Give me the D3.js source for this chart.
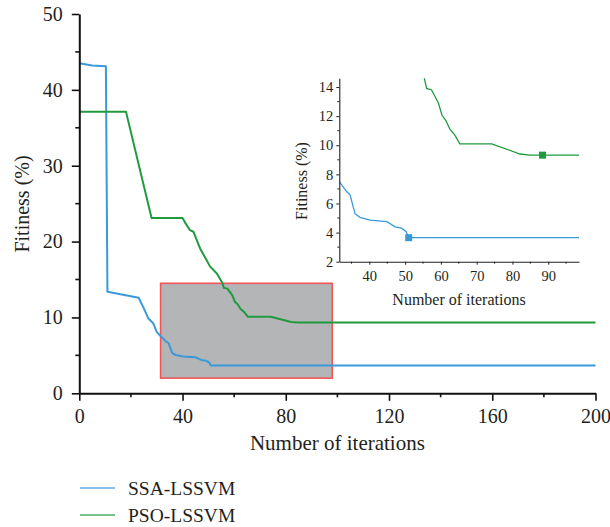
<!DOCTYPE html>
<html>
<head>
<meta charset="utf-8">
<script src="https://cdn.jsdelivr.net/npm/d3@7"></script>
<style>
  html, body { margin: 0; padding: 0; background: #fff; }
  svg { display: block; }
  text { font-family: "Liberation Serif", "Times New Roman", serif; fill: #231f20; }
</style>
</head>
<body>
<svg id="chart" width="610" height="527"></svg>
<script>
// ---- Data ----
const seriesNames = ["SSA-LSSVM", "PSO-LSSVM"];
const ssaIter = [0, 5, 10.3, 10.9, 23, 25, 26.7, 28.7, 30, 31.6, 33.7, 34.6, 36, 37.4, 40.2, 44.9, 47.2, 49, 50.3, 51, 200];
const ssaFit  = [43.5, 43.2, 43.1, 13.4, 12.6, 11.2, 9.9, 9.2, 8.1, 7.5, 6.8, 6.6, 5.3, 5.05, 4.86, 4.75, 4.4, 4.3, 4.06, 3.65, 3.65];
const psoIter = [0, 18.1, 28, 40, 41, 42.9, 44.2, 46.8, 50.7, 53.3, 55.4, 56, 57.4, 59.3, 60.3, 61.4, 62.5, 63.9, 65.3, 74.2, 82.1, 84.9, 200];
const psoFit  = [37.1, 37.1, 23.1, 23.1, 22.5, 21.5, 21.3, 19.1, 16.7, 15.8, 14.58, 13.9, 13.8, 12.9, 12.06, 11.7, 11.1, 10.7, 10.1, 10.1, 9.4, 9.32, 9.32];
const bestIter = [51, 88.4];
const bestFit  = [3.65, 9.32];
const mainXTicks = [0, 40, 80, 120, 160, 200];
const mainYTicks = [0, 10, 20, 30, 40, 50];
const insetXTicks = [40, 50, 60, 70, 80, 90];
const insetYTicks = [2, 4, 6, 8, 10, 12, 14];
const zoomIter = [31.5, 98];
const zoomFit = [2, 14.5];

const colors = ["#3a9ad9", "#1f9a3e"];
const svg = d3.select("#chart");

const ssa = ssaIter.map((x, i) => ({x, y: ssaFit[i]}));
const pso = psoIter.map((x, i) => ({x, y: psoFit[i]}));
const series = [ssa, pso];

// ---- Main chart ----
const x = d3.scaleLinear().domain([0, 200]).range([79.3, 595.5]);
const y = d3.scaleLinear().domain([0, 50]).range([393.3, 14]);

// zoom rectangle
svg.append("rect")
  .attr("x", x(zoomIter[0])).attr("y", y(zoomFit[1]))
  .attr("width", x(zoomIter[1]) - x(zoomIter[0]))
  .attr("height", y(zoomFit[0]) - y(zoomFit[1]))
  .attr("fill", "#b3b5b7").attr("stroke", "#f25656").attr("stroke-width", 1.6);

const line = d3.line().x(d => x(d.x)).y(d => y(d.y));
series.forEach((s, i) => {
  svg.append("path").datum(s).attr("d", line)
    .attr("fill", "none").attr("stroke", colors[i]).attr("stroke-width", 2)
    .attr("stroke-linejoin", "round");
});

function styleAxis(g, fs) {
  g.select(".domain").attr("stroke", "#111").attr("stroke-width", 2);
  g.selectAll(".tick line").attr("stroke", "#111").attr("stroke-width", 1.6);
  g.selectAll("text").style("font-size", fs + "px").attr("fill", "#231f20");
}

// minor ticks
const xMinor = d3.range(0, 201, 20).filter(v => !mainXTicks.includes(v));
const yMinor = d3.range(0, 51, 5).filter(v => !mainYTicks.includes(v));

const gx = svg.append("g").attr("transform", `translate(0,${y(0)})`)
  .call(d3.axisBottom(x).tickValues(mainXTicks).tickSize(7.5).tickPadding(8).tickSizeOuter(0));
styleAxis(gx, 20);
gx.selectAll(".minor").data(xMinor).enter().append("line")
  .attr("x1", d => x(d)).attr("x2", d => x(d)).attr("y1", 0).attr("y2", 4)
  .attr("stroke", "#111").attr("stroke-width", 1.6);

const gy = svg.append("g").attr("transform", `translate(${x(0)},0)`)
  .call(d3.axisLeft(y).tickValues(mainYTicks).tickSize(7.5).tickPadding(9).tickSizeOuter(0));
styleAxis(gy, 20);
gy.selectAll(".minor").data(yMinor).enter().append("line")
  .attr("y1", d => y(d)).attr("y2", d => y(d)).attr("x1", 0).attr("x2", -4)
  .attr("stroke", "#111").attr("stroke-width", 1.6);

svg.append("text").attr("x", (x(0) + x(200)) / 2).attr("y", 450)
  .attr("text-anchor", "middle").style("font-size", "21px").text("Number of iterations");
svg.append("text").attr("transform", `translate(29,${204}) rotate(-90)`)
  .attr("text-anchor", "middle").style("font-size", "20px").text("Fitiness (%)");

// ---- Inset ----
const xi = d3.scaleLinear().domain([31.6, 98.6]).range([339.3, 579]);
const yi = d3.scaleLinear().domain([2, 14.6]).range([261.7, 78.3]);

svg.append("clipPath").attr("id", "insetClip").append("rect")
  .attr("x", xi.range()[0]).attr("y", yi.range()[1])
  .attr("width", xi.range()[1] - xi.range()[0]).attr("height", yi.range()[0] - yi.range()[1]);

const lineI = d3.line().x(d => xi(d.x)).y(d => yi(d.y));
const gi = svg.append("g").attr("clip-path", "url(#insetClip)");
series.forEach((s, i) => {
  gi.append("path").datum(s).attr("d", lineI)
    .attr("fill", "none").attr("stroke", colors[i]).attr("stroke-width", 1.3);
});
bestIter.forEach((b, i) => {
  svg.append("rect").attr("x", xi(b) - 3.5).attr("y", yi(bestFit[i]) - 3.5)
    .attr("width", 7).attr("height", 7).attr("fill", colors[i]);
});

function styleInset(g) {
  g.select(".domain").attr("stroke", "#222").attr("stroke-width", 1.1);
  g.selectAll(".tick line").attr("stroke", "#222").attr("stroke-width", 1);
  g.selectAll("text").style("font-size", "14.5px").attr("fill", "#231f20");
}
const xiMinor = d3.range(35, 98, 5).filter(v => !insetXTicks.includes(v));
const yiMinor = d3.range(3, 15, 2);

const gxi = svg.append("g").attr("transform", `translate(0,${yi(2)})`)
  .call(d3.axisBottom(xi).tickValues(insetXTicks).tickSize(3).tickPadding(6).tickSizeOuter(0));
styleInset(gxi);
gxi.selectAll(".minor").data(xiMinor).enter().append("line")
  .attr("x1", d => xi(d)).attr("x2", d => xi(d)).attr("y1", 0).attr("y2", 2)
  .attr("stroke", "#222");

const gyi = svg.append("g").attr("transform", `translate(${xi.range()[0]},0)`)
  .call(d3.axisLeft(yi).tickValues(insetYTicks).tickSize(3).tickPadding(3).tickSizeOuter(0));
styleInset(gyi);
gyi.selectAll(".minor").data(yiMinor).enter().append("line")
  .attr("y1", d => yi(d)).attr("y2", d => yi(d)).attr("x1", 0).attr("x2", -2)
  .attr("stroke", "#222");

svg.append("text").attr("x", 459).attr("y", 305)
  .attr("text-anchor", "middle").style("font-size", "16px").text("Number of iterations");
svg.append("text").attr("transform", `translate(307,${181}) rotate(-90)`)
  .attr("text-anchor", "middle").style("font-size", "16px").text("Fitiness (%)");

// ---- Legend ----
const legendY = [488, 515];
seriesNames.forEach((n, i) => {
  svg.append("line").attr("x1", 80).attr("x2", 115).attr("y1", legendY[i]).attr("y2", legendY[i])
    .attr("stroke", colors[i]).attr("stroke-width", 1.5).attr("stroke-opacity", 0.8);
  svg.append("text").attr("x", 128).attr("y", legendY[i]).attr("dy", "0.35em")
    .style("font-size", "19.5px").text(n);
});
</script>
</body>
</html>
